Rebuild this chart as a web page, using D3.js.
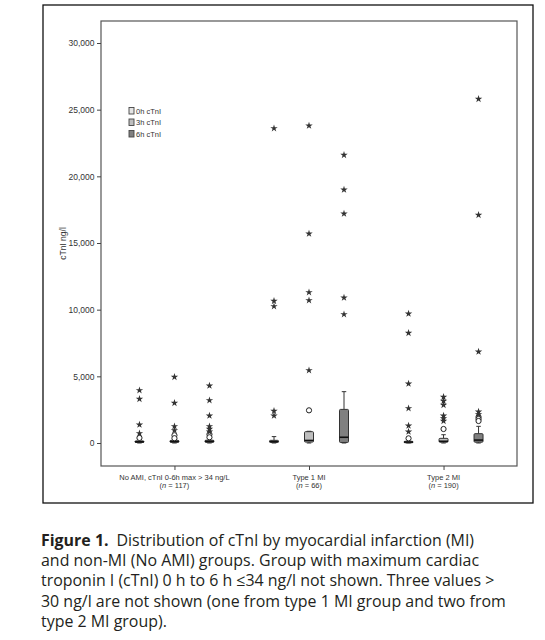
<!DOCTYPE html>
<html>
<head>
<meta charset="utf-8">
<script src="https://cdn.jsdelivr.net/npm/d3@7"></script>
<style>
  body { margin: 0; background: #fff; }
  svg { display: block; }
  text { font-variant-ligatures: none; }
</style>
</head>
<body>
<script>
// ---------- data ----------
const groups = ["No AMI, cTnI 0-6h max > 34 ng/L", "Type 1 MI", "Type 2 MI"];
const groupN = ["117", "66", "190"];
const series = ["0h cTnI", "3h cTnI", "6h cTnI"];
const seriesFill = ["#e4e4e4", "#bebebe", "#808080"];
const yTicks = [0, 5000, 10000, 15000, 20000, 25000, 30000];

// box statistics per series, one entry per group: [whiskerLow, q1, median, q3, whiskerHigh]
const box0h = [[0, 40, 90, 160, 300], [0, 40, 110, 200, 480], [0, 30, 70, 130, 250]];
const box3h = [[0, 50, 110, 200, 380], [0, 70, 190, 850, 880], [0, 60, 130, 350, 620]];
const box6h = [[0, 50, 120, 210, 400], [0, 40, 430, 2520, 3850], [0, 60, 220, 700, 1250]];

// outliers (circles) per series, per group
const out0h = [[380], [], [350]];
const out3h = [[580, 360], [2450], [1050]];
const out6h = [[650, 430], [], [1950, 1800, 1650]];

// extremes (stars) per series, per group
const ext0h = [[3950, 3300, 1375, 720], [23600, 10650, 10250, 2400, 2050], [9700, 8250, 4450, 2600, 1300, 850]];
const ext3h = [[4950, 3000, 1250, 950], [23800, 15700, 11300, 10700, 5450], [3450, 3150, 2850, 2050, 1850, 1650]];
const ext6h = [[4300, 3200, 2050, 1250, 1050, 850], [21600, 19000, 17200, 10900, 9650], [25800, 17100, 6850, 2350, 2150]];

const caption = [
  "Distribution of cTnI by myocardial infarction (MI)",
  "and non-MI (No AMI) groups. Group with maximum cardiac",
  "troponin I (cTnI) 0 h to 6 h \u226434 ng/l not shown. Three values >",
  "30 ng/l are not shown (one from type 1 MI group and two from",
  "type 2 MI group)."
];

// ---------- layout ----------
const W = 545, H = 640;
const plot = { left: 101, right: 517, top: 21, bottom: 466 };

const svg = d3.select("body").append("svg").attr("width", W).attr("height", H);

// outer frame
svg.append("rect").attr("x", 43).attr("y", 5).attr("width", 490).attr("height", 498)
  .attr("fill", "none").attr("stroke", "#111").attr("stroke-width", 1.3);

const y = d3.scaleLinear().domain([-1725, 31650]).range([plot.bottom, plot.top]);
const x = d3.scalePoint().domain(groups).range([plot.left, plot.right]).padding(0.546);
const xs = d3.scalePoint().domain(series).range([-35, 35]);

// plot frame
svg.append("rect").attr("x", plot.left).attr("y", plot.top)
  .attr("width", plot.right - plot.left).attr("height", plot.bottom - plot.top)
  .attr("fill", "none").attr("stroke", "#555").attr("stroke-width", 1.2);

// y axis
const yAxis = d3.axisLeft(y).tickValues(yTicks).tickSize(4).tickFormat(d3.format(","));
const gy = svg.append("g").attr("transform", `translate(${plot.left},0)`).call(yAxis);
gy.select(".domain").remove();
gy.selectAll("line").attr("stroke", "#444");
gy.selectAll("text").attr("font-family", "Liberation Sans, Arial, sans-serif")
  .attr("font-size", 8.5).attr("fill", "#333").attr("dx", 0.5);

svg.append("text")
  .attr("transform", `translate(66,${(plot.top + plot.bottom) / 2}) rotate(-90)`)
  .attr("text-anchor", "middle")
  .attr("font-family", "Liberation Sans, Arial, sans-serif")
  .attr("font-size", 8.5).attr("fill", "#333")
  .text("cTnI ng/l");

// x axis
const xAxis = d3.axisBottom(x).tickSize(4).tickFormat("");
const gx = svg.append("g").attr("transform", `translate(0,${plot.bottom})`).call(xAxis);
gx.select(".domain").remove();
gx.selectAll("line").attr("stroke", "#444");

const lab = svg.append("g").attr("font-family", "Liberation Sans, Arial, sans-serif")
  .attr("font-size", 7.5).attr("fill", "#333").attr("text-anchor", "middle");
groups.forEach((g, i) => {
  lab.append("text").attr("x", x(g)).attr("y", 480).text(g);
  const t = lab.append("text").attr("x", x(g)).attr("y", 488);
  t.append("tspan").text("(");
  t.append("tspan").attr("font-style", "italic").text("n");
  t.append("tspan").text(" = " + groupN[i] + ")");
});

// boxes
const boxes = [box0h, box3h, box6h];
const outs = [out0h, out3h, out6h];
const exts = [ext0h, ext3h, ext6h];
const bw = 9, cap = 4.5;
const star = d3.symbol().type(d3.symbolStar).size(17);

series.forEach((s, si) => {
  groups.forEach((g, gi) => {
    const cx = x(g) + xs(s);
    const [lo, q1, med, q3, hi] = boxes[si][gi];
    const gg = svg.append("g");
    gg.append("line").attr("x1", cx).attr("x2", cx).attr("y1", y(q3)).attr("y2", y(hi))
      .attr("stroke", "#333").attr("stroke-width", 1);
    gg.append("line").attr("x1", cx - cap / 2).attr("x2", cx + cap / 2).attr("y1", y(hi)).attr("y2", y(hi))
      .attr("stroke", "#333").attr("stroke-width", 1);
    gg.append("line").attr("x1", cx).attr("x2", cx).attr("y1", y(q1)).attr("y2", y(lo))
      .attr("stroke", "#333").attr("stroke-width", 1);
    gg.append("line").attr("x1", cx - cap / 2).attr("x2", cx + cap / 2).attr("y1", y(lo)).attr("y2", y(lo))
      .attr("stroke", "#333").attr("stroke-width", 1);
    gg.append("rect").attr("x", cx - bw / 2).attr("width", bw)
      .attr("y", y(q3)).attr("height", Math.max(1.5, y(q1) - y(q3)))
      .attr("rx", 1).attr("fill", seriesFill[si]).attr("stroke", "#333").attr("stroke-width", 1);
    gg.append("line").attr("x1", cx - bw / 2).attr("x2", cx + bw / 2).attr("y1", y(med)).attr("y2", y(med))
      .attr("stroke", "#111").attr("stroke-width", 1.6);
    outs[si][gi].forEach(v => {
      gg.append("circle").attr("cx", cx).attr("cy", y(v)).attr("r", 2.6)
        .attr("fill", "#fff").attr("stroke", "#222").attr("stroke-width", 1);
    });
    exts[si][gi].forEach(v => {
      gg.append("path").attr("d", star).attr("transform", `translate(${cx},${y(v)})`)
        .attr("fill", "#333");
    });
  });
});

// legend
const leg = svg.append("g").attr("font-family", "Liberation Sans, Arial, sans-serif")
  .attr("font-size", 7.5).attr("fill", "#333");
series.forEach((s, i) => {
  const yy = 111 + i * 11.5;
  leg.append("rect").attr("x", 129).attr("y", yy - 3.5).attr("width", 5).attr("height", 6.5)
    .attr("fill", seriesFill[i]).attr("stroke", "#444").attr("stroke-width", 0.9);
  leg.append("text").attr("x", 136).attr("y", yy + 2.7).text(s);
});

// caption
const capG = svg.append("g").attr("font-family", "'Open Sans', Lato, sans-serif")
  .attr("font-size", 14).attr("fill", "#231f20");
const capTexts = caption.map((line, i) => {
  const t = capG.append("text").attr("x", 41).attr("y", 545.5 + i * 20.4);
  if (i === 0) {
    t.append("tspan").attr("font-weight", "bold").text("Figure 1.");
    t.append("tspan").text("\u2002" + line);
  } else {
    t.text(line);
  }
  return t;
});
// fit font size so the longest line matches the reference width (~465px)
const w4 = capTexts[3].node().getComputedTextLength();
capG.attr("font-size", 14 * 465 / w4);
</script>
</body>
</html>
